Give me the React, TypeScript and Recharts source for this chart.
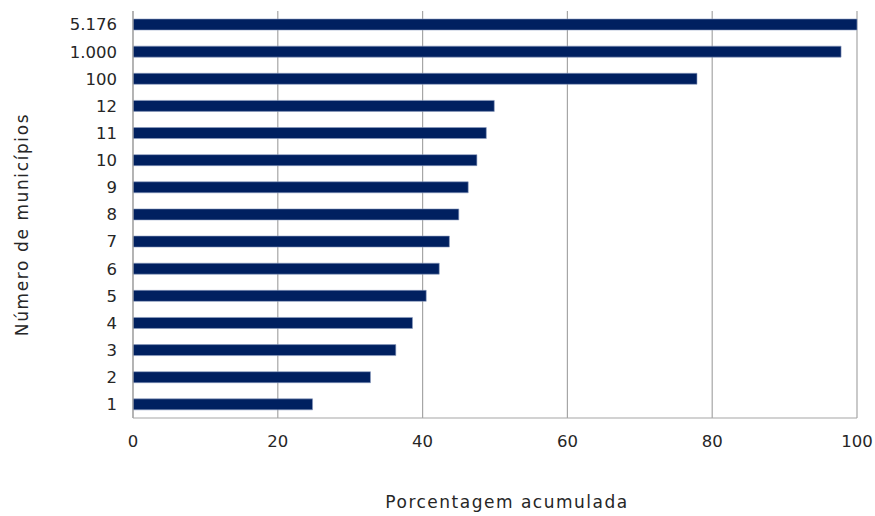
import { Bar, BarChart, CartesianGrid, Label, XAxis, YAxis } from "recharts";

if (typeof document !== "undefined") {
  document.body.style.margin = "0";
}

const categories = ["5.176", "1.000", "100", "12", "11", "10", "9", "8", "7", "6", "5", "4", "3", "2", "1"];
const percentages = [100, 97.8, 77.9, 49.9, 48.8, 47.5, 46.3, 45.0, 43.7, 42.3, 40.5, 38.6, 36.3, 32.8, 24.8];
const xTicks = [0, 20, 40, 60, 80, 100];

const data = categories.map((label, i) => ({ label, pct: percentages[i] }));

const FONT = "'DejaVu Sans', sans-serif";
const TEXT = "#262626";
const GRID = "#a6a6a6";

export default function App() {
  return (
    <div style={{ width: 875, height: 516, background: "#fff" }}>
      <BarChart
        width={875}
        height={516}
        data={data}
        layout="vertical"
        margin={{ top: 11, right: 18, bottom: 0, left: 0 }}
        barCategoryGap={0}
      >
        <CartesianGrid horizontal={false} stroke={GRID} strokeWidth={1.2} />
        <XAxis
          type="number"
          domain={[0, 100]}
          ticks={xTicks}
          interval={0}
          height={98}
          axisLine={{ stroke: GRID, strokeWidth: 1.2 }}
          tickLine={false}
          tickSize={0}
          tickMargin={17}
          tick={{ fontSize: 16.5, fill: TEXT, fontFamily: FONT }}
        >
          <Label
            value="Porcentagem acumulada"
            position="insideBottom"
            offset={8}
            dx={12}
            style={{ fontSize: 17, fill: TEXT, fontFamily: FONT, letterSpacing: 1.5 }}
          />
        </XAxis>
        <YAxis
          type="category"
          dataKey="label"
          width={133}
          axisLine={{ stroke: GRID, strokeWidth: 1.2 }}
          tickLine={false}
          tickSize={0}
          tickMargin={16}
          tick={{ fontSize: 16.5, fill: TEXT, fontFamily: FONT }}
        >
          <Label
            value="Número de municípios"
            position="center"
            angle={-90}
            dx={-45}
            dy={10}
            style={{ fontSize: 17, fill: TEXT, fontFamily: FONT, letterSpacing: 1.6, textAnchor: "middle" }}
          />
        </YAxis>
        <Bar
          dataKey="pct"
          fill="#002060"
          stroke="#8c9cc0"
          strokeWidth={0.6}
          barSize={11}
          isAnimationActive={false}
        />
      </BarChart>
    </div>
  );
}
